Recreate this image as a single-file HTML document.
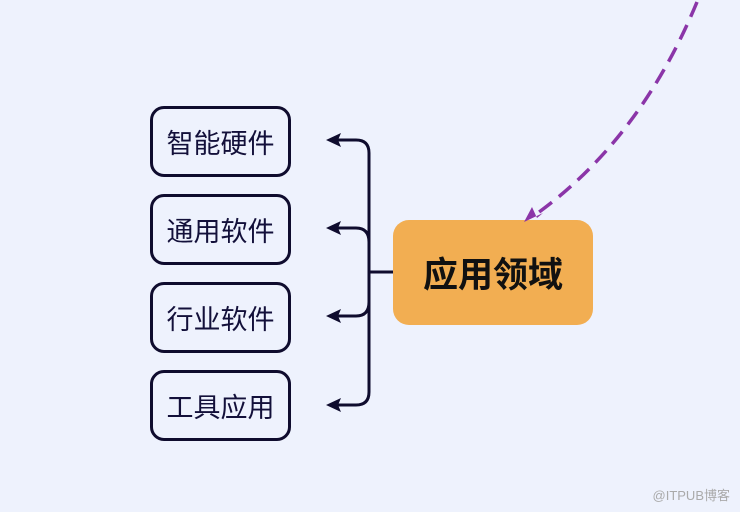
<!DOCTYPE html>
<html><head><meta charset="utf-8"><style>
body{margin:0;width:740px;height:512px;background:#eef2fd;overflow:hidden;position:relative;font-family:"Liberation Sans","Noto Sans CJK SC",sans-serif}
.b{position:absolute;left:150px;height:65px;border:3px solid #0f0c2e;border-radius:14px;box-sizing:content-box;display:flex;align-items:center;justify-content:center;font-size:27px;color:#13103a;width:135px;}
.o{position:absolute;left:393px;top:220px;width:200px;height:105px;background:#f2ae52;border-radius:16px;display:flex;align-items:center;justify-content:center;font-size:35px;font-weight:bold;color:#111}
.w{position:absolute;right:10px;bottom:8px;font-size:13px;color:#aaa}
</style></head><body>
<div class="b" style="top:106px">智能硬件</div>
<div class="b" style="top:194px">通用软件</div>
<div class="b" style="top:282px">行业软件</div>
<div class="b" style="top:370px">工具应用</div>
<div class="o">应用领域</div>
<svg width="740" height="512" style="position:absolute;left:0;top:0">
<g fill="none" stroke="#0f0c2e" stroke-width="3">
<path d="M393 272 H369"/>
<path d="M369 392 V153 Q369 140 356 140 H334"/>
<path d="M369 392 Q369 405 356 405 H334"/>
<path d="M369 242 Q369 228 356 228 H334"/>
<path d="M369 302 Q369 316 356 316 H334"/>
</g>
<g fill="#0f0c2e">
<path d="M326 140 L341 133 L338 140 L341 147Z"/>
<path d="M326 228 L341 221 L338 228 L341 235Z"/>
<path d="M326 316 L341 309 L338 316 L341 323Z"/>
<path d="M326 405 L341 398 L338 405 L341 412Z"/>
</g>
<path d="M697 2 Q640 140 535 215" fill="none" stroke="#8b35a8" stroke-width="3.5" stroke-dasharray="16 9"/>
<path d="M524 222 L532 207 L537 218 L543 213Z" fill="#8b35a8"/>
</svg>
<div class="w">@ITPUB博客</div>
</body></html>
